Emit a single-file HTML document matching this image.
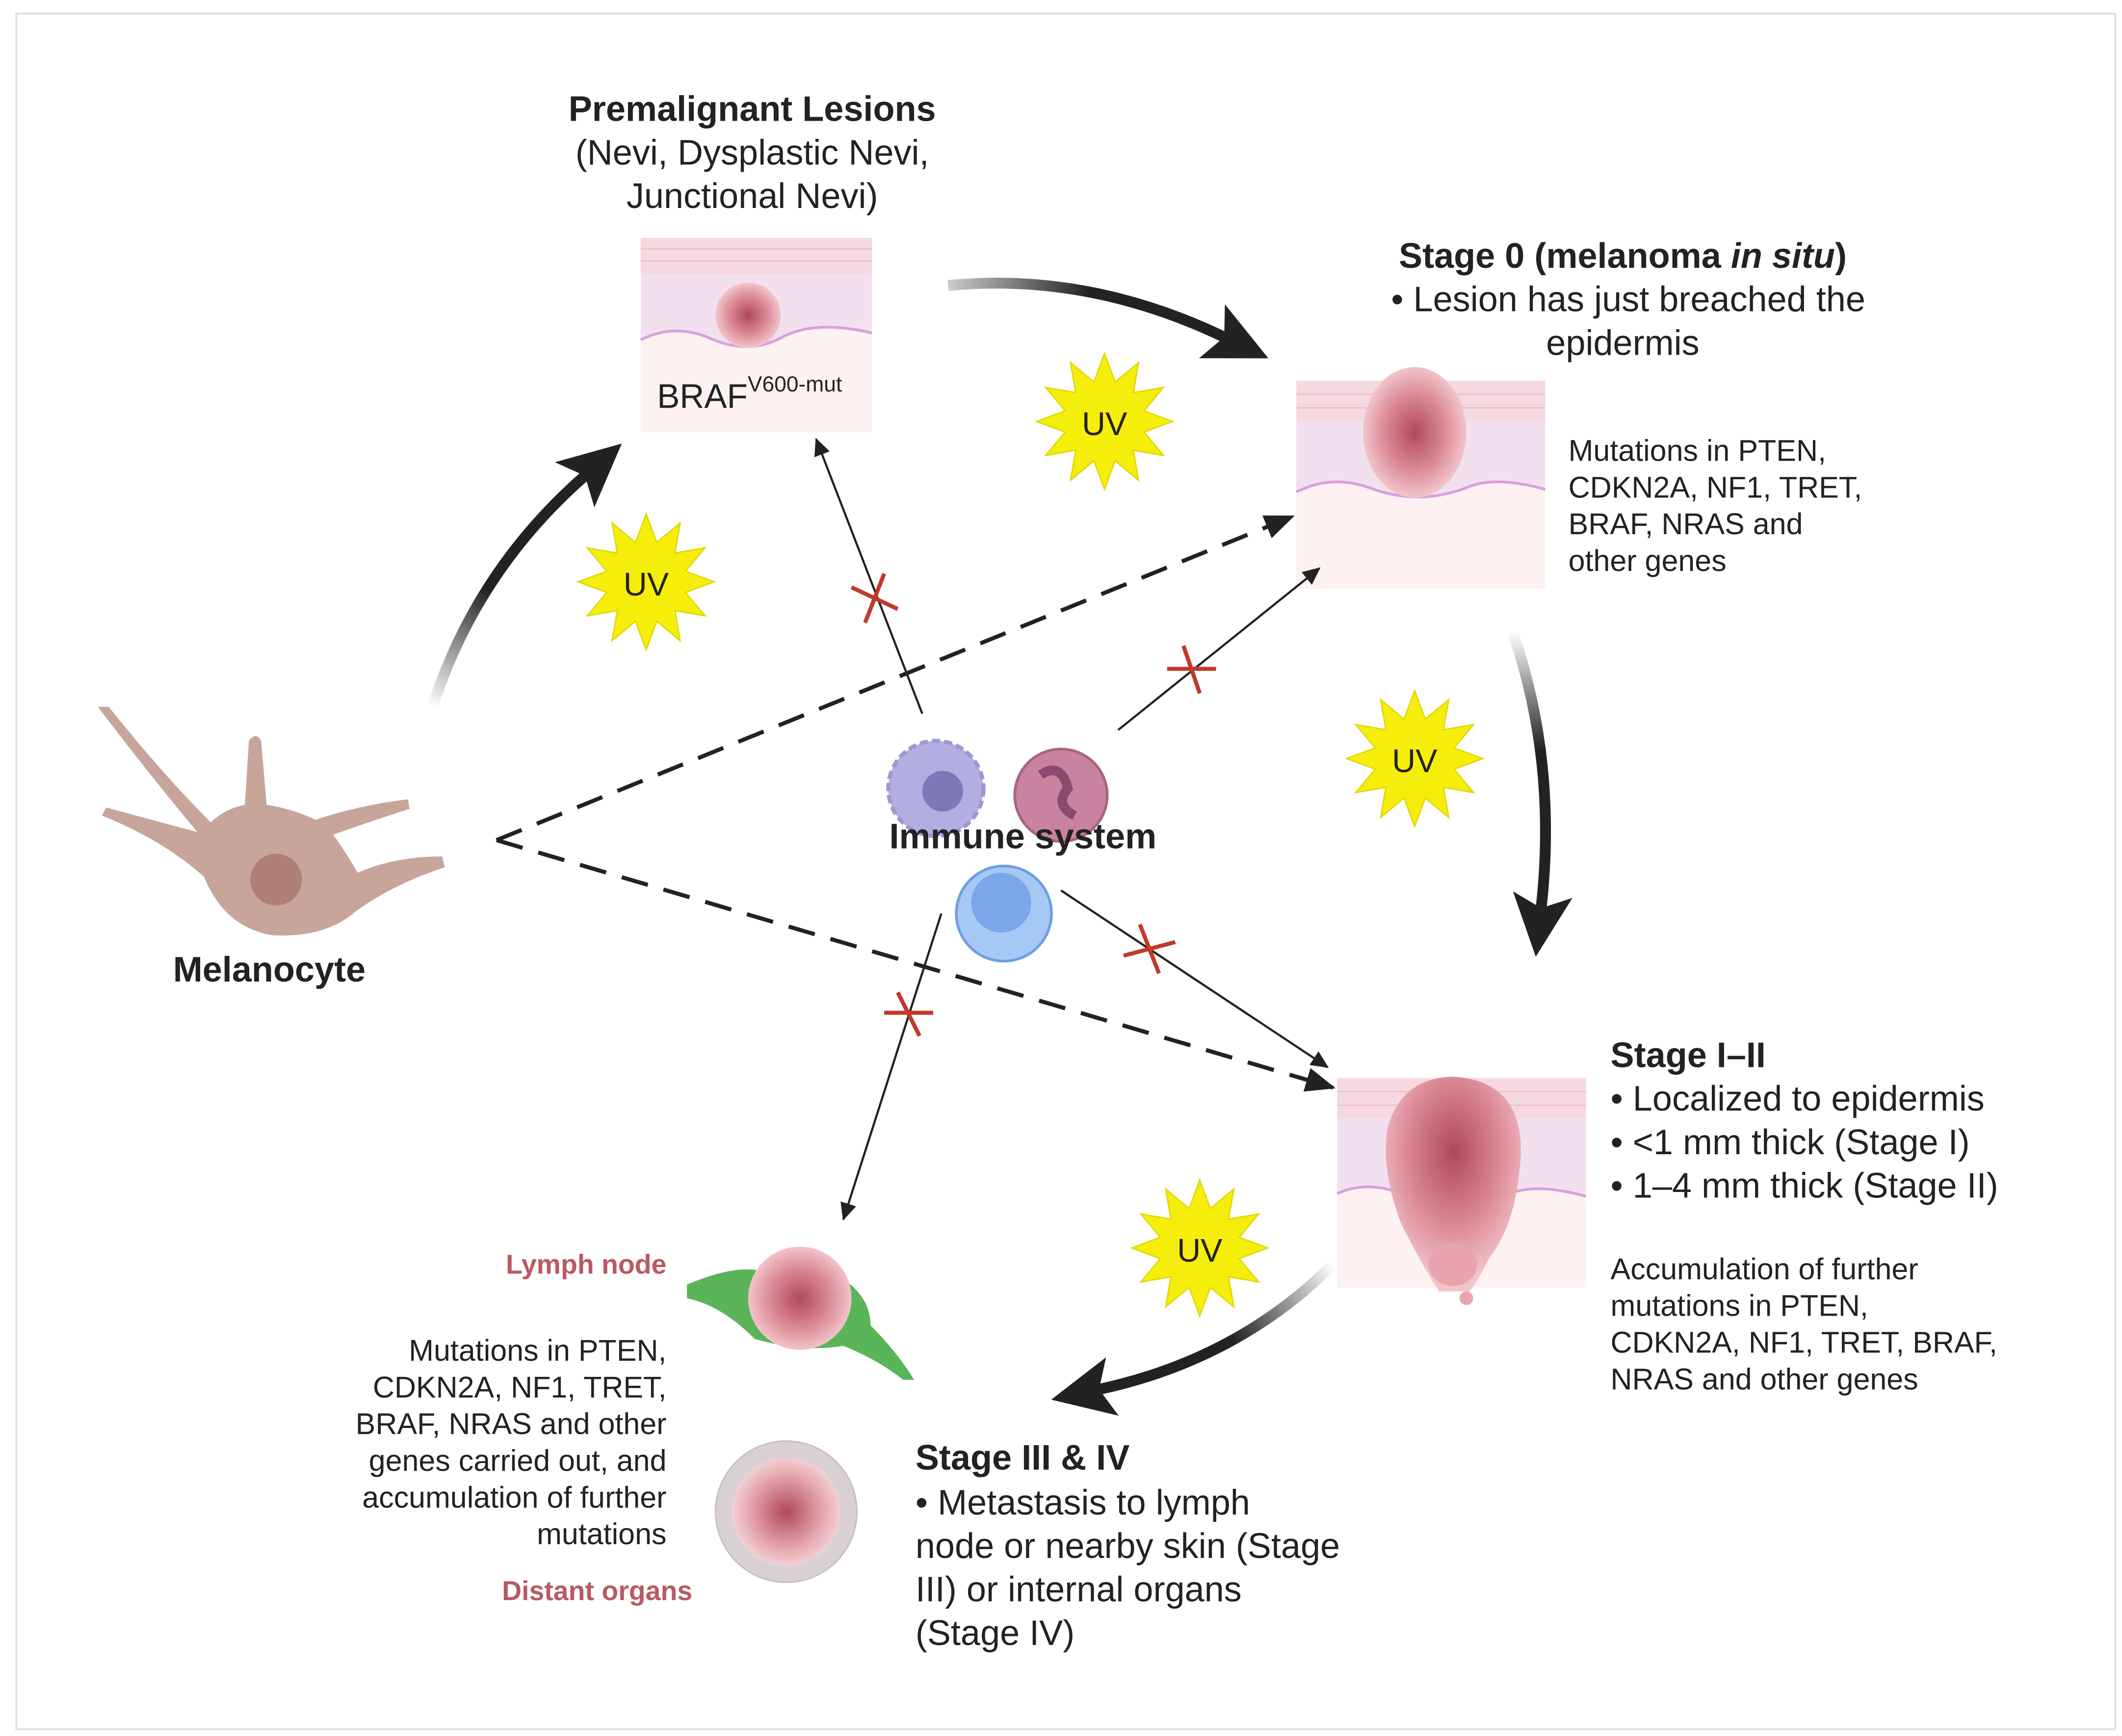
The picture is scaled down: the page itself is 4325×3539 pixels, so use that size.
<!DOCTYPE html>
<html><head><meta charset="utf-8">
<style>
html,body{margin:0;padding:0;background:#fff;}
svg{display:block;}
text{font-family:"Liberation Sans",sans-serif;fill:#222;}
.b{font-weight:bold;}
</style></head>
<body>
<svg width="4325" height="3539" viewBox="0 0 1560 1277" preserveAspectRatio="none" xmlns="http://www.w3.org/2000/svg">
<defs>
<marker id="big" markerUnits="userSpaceOnUse" markerWidth="50" markerHeight="50" refX="10" refY="25" orient="auto"><path d="M0,3 L46,25 L0,47 L10,25 Z" fill="#222"/></marker>
<marker id="sm" markerUnits="userSpaceOnUse" markerWidth="14" markerHeight="14" refX="12" refY="7" orient="auto"><path d="M0,1 L13,7 L0,13 Z" fill="#222"/></marker>
<marker id="dm" markerUnits="userSpaceOnUse" markerWidth="24" markerHeight="24" refX="20" refY="12" orient="auto"><path d="M0,3 L22,12 L0,21 Z" fill="#222"/></marker>
<linearGradient id="g1" gradientUnits="userSpaceOnUse" x1="318" y1="520" x2="420" y2="360"><stop offset="0" stop-color="#fff"/><stop offset="0.5" stop-color="#222"/></linearGradient>
<linearGradient id="g2" gradientUnits="userSpaceOnUse" x1="697" y1="210" x2="900" y2="240"><stop offset="0" stop-color="#ccc"/><stop offset="0.5" stop-color="#222"/></linearGradient>
<linearGradient id="g3" gradientUnits="userSpaceOnUse" x1="1112" y1="465" x2="1135" y2="640"><stop offset="0" stop-color="#fff"/><stop offset="0.5" stop-color="#222"/></linearGradient>
<linearGradient id="g4" gradientUnits="userSpaceOnUse" x1="980" y1="930" x2="820" y2="1020"><stop offset="0" stop-color="#fff"/><stop offset="0.5" stop-color="#222"/></linearGradient>
<radialGradient id="tum"><stop offset="0" stop-color="#b0485e"/><stop offset="0.6" stop-color="#dc8c98"/><stop offset="1" stop-color="#f2c4ca"/></radialGradient>
<radialGradient id="tum2" cx="0.5" cy="0.35" r="0.6"><stop offset="0" stop-color="#b0485e"/><stop offset="0.6" stop-color="#dc8c98"/><stop offset="1" stop-color="#f2c4ca"/></radialGradient>
<radialGradient id="org"><stop offset="0" stop-color="#b0485e"/><stop offset="0.7" stop-color="#e7a9b1"/><stop offset="1" stop-color="#f0d0d4"/></radialGradient>
<polygon id="star" points="50,0 29,7.8 43.3,25 21.2,21.2 25,43.3 7.8,29 0,50 -7.8,29 -25,43.3 -21.2,21.2 -43.3,25 -29,7.8 -50,0 -29,-7.8 -43.3,-25 -21.2,-21.2 -25,-43.3 -7.8,-29 0,-50 7.8,-29 25,-43.3 21.2,-21.2 43.3,-25 29,-7.8" fill="#f5ee0a" stroke="#e0d800" stroke-width="1"/>
</defs>
<rect x="12" y="10" width="1543" height="1262" fill="#fff" stroke="#e2e2e2" stroke-width="1.5"/>

<!-- Premalignant -->
<text x="553" y="89" text-anchor="middle" class="b" font-size="26">Premalignant Lesions</text>
<text x="553" y="121" text-anchor="middle" font-size="26">(Nevi, Dysplastic Nevi,</text>
<text x="553" y="153" text-anchor="middle" font-size="26">Junctional Nevi)</text>
<rect x="471" y="175" width="170" height="143" fill="#fdf1f1"/>
<rect x="471" y="175" width="170" height="27" fill="#f6d9e0"/>
<line x1="471" y1="183" x2="641" y2="183" stroke="#eac0c8"/><line x1="471" y1="192" x2="641" y2="192" stroke="#eac0c8"/>
<path d="M471,202 H641 V245 Q600,235 575,248 Q550,262 520,248 Q495,238 471,250 Z" fill="#f2e0ef"/>
<path d="M471,250 Q495,238 520,248 Q550,262 575,248 Q600,235 641,245" fill="none" stroke="#d9a0dc" stroke-width="2"/>
<circle cx="550" cy="232" r="24" fill="url(#tum)"/>
<text x="483" y="300" font-size="25">BRAF<tspan dy="-12" font-size="16">V600-mut</tspan></text>

<!-- Stage 0 -->
<text x="1193" y="197" text-anchor="middle" class="b" font-size="26">Stage 0 (melanoma <tspan font-style="italic">in situ</tspan>)</text>
<text x="1197" y="229" text-anchor="middle" font-size="26">• Lesion has just breached the</text>
<text x="1193" y="261" text-anchor="middle" font-size="26">epidermis</text>
<rect x="953" y="280" width="183" height="153" fill="#fdf1f1"/>
<rect x="953" y="280" width="183" height="30" fill="#f6d9e0"/>
<line x1="953" y1="290" x2="1136" y2="290" stroke="#eac0c8"/><line x1="953" y1="300" x2="1136" y2="300" stroke="#eac0c8"/>
<path d="M953,310 H1136 V360 Q1100,350 1080,358 Q1045,372 1010,360 Q980,348 953,362 Z" fill="#f2e0ef"/>
<path d="M953,362 Q980,348 1010,360 Q1045,372 1080,358 Q1100,350 1136,360" fill="none" stroke="#d9a0dc" stroke-width="2"/>
<ellipse cx="1040" cy="318" rx="38" ry="48" fill="url(#tum)"/>
<g font-size="22"><text x="1153" y="339">Mutations in PTEN,</text><text x="1153" y="366">CDKN2A, NF1, TRET,</text><text x="1153" y="393">BRAF, NRAS and</text><text x="1153" y="420">other genes</text></g>

<!-- Stage I-II -->
<rect x="983" y="793" width="183" height="154" fill="#fdf1f1"/>
<rect x="983" y="793" width="183" height="30" fill="#f6d9e0"/>
<line x1="983" y1="803" x2="1166" y2="803" stroke="#eac0c8"/><line x1="983" y1="813" x2="1166" y2="813" stroke="#eac0c8"/>
<path d="M983,823 H1166 V880 Q1130,870 1110,878 Q1070,892 1030,878 Q1005,868 983,878 Z" fill="#f2e0ef"/>
<path d="M983,878 Q1005,868 1030,878 Q1070,892 1110,878 Q1130,870 1166,880" fill="none" stroke="#d9a0dc" stroke-width="2"/>
<path d="M1068,792 Q1120,795 1118,850 Q1115,900 1095,925 Q1085,945 1080,950 L1058,950 Q1045,930 1030,900 Q1015,860 1020,830 Q1030,793 1068,792 Z" fill="url(#tum2)"/>
<ellipse cx="1068" cy="930" rx="18" ry="16" fill="#eaa4b0"/>
<circle cx="1078" cy="955" r="5" fill="#eaa4b0"/>
<g font-size="26"><text x="1184" y="785" class="b">Stage I–II</text><text x="1184" y="817">• Localized to epidermis</text><text x="1184" y="849">• &lt;1 mm thick (Stage I)</text><text x="1184" y="881">• 1–4 mm thick (Stage II)</text></g>
<g font-size="22"><text x="1184" y="941">Accumulation of further</text><text x="1184" y="968">mutations in PTEN,</text><text x="1184" y="995">CDKN2A, NF1, TRET, BRAF,</text><text x="1184" y="1022">NRAS and other genes</text></g>

<!-- Stage III & IV -->
<g font-size="26"><text x="673" y="1081" class="b">Stage III &amp; IV</text><text x="673" y="1114">• Metastasis to lymph</text><text x="673" y="1146">node or nearby skin (Stage</text><text x="673" y="1178">III) or internal organs</text><text x="673" y="1210">(Stage IV)</text></g>

<!-- Lymph node & organ -->
<path d="M505,945 Q540,930 560,935 Q580,925 610,935 Q640,950 640,975 Q660,995 672,1015 L664,1015 Q645,1000 620,990 Q590,995 555,985 Q530,960 505,955 Z" fill="#5ab45a"/>
<circle cx="588" cy="955" r="38" fill="url(#tum)"/>
<text x="490" y="937" text-anchor="end" class="b" font-size="20" style="fill:#b85a62">Lymph node</text>
<circle cx="578" cy="1112" r="52" fill="#d8d0d2" stroke="#c8bcc0"/>
<circle cx="578" cy="1112" r="40" fill="url(#org)"/>
<text x="509" y="1177" text-anchor="end" class="b" font-size="20" style="fill:#b85a62">Distant organs</text>
<g font-size="22" text-anchor="end"><text x="490" y="1001">Mutations in PTEN,</text><text x="490" y="1028">CDKN2A, NF1, TRET,</text><text x="490" y="1055">BRAF, NRAS and other</text><text x="490" y="1082">genes carried out, and</text><text x="490" y="1109">accumulation of further</text><text x="490" y="1136">mutations</text></g>

<!-- Melanocyte -->
<path d="M72,520 L80,520 Q120,570 155,605 Q165,595 180,592 L183,545 Q188,538 192,545 L196,592 Q215,595 232,603 Q265,592 300,588 L301,595 Q270,605 245,614 Q255,628 263,642 Q290,630 325,630 L327,638 Q290,650 262,670 Q240,690 200,688 Q165,682 150,645 Q120,618 75,600 L78,594 Q115,604 145,612 Q110,570 72,520 Z" fill="#c7a59b"/>
<circle cx="203" cy="647" r="19" fill="#b07f78"/>
<text x="198" y="722" text-anchor="middle" class="b" font-size="26">Melanocyte</text>

<!-- Big arrows -->
<path d="M318,520 Q350,420 430,350" fill="none" stroke="url(#g1)" stroke-width="8" marker-end="url(#big)"/>
<path d="M697,210 Q800,200 900,248" fill="none" stroke="url(#g2)" stroke-width="8" marker-end="url(#big)"/>
<path d="M1112,465 Q1145,560 1133,668" fill="none" stroke="url(#g3)" stroke-width="8" marker-end="url(#big)"/>
<path d="M980,930 Q910,1000 808,1022" fill="none" stroke="url(#g4)" stroke-width="8" marker-end="url(#big)"/>

<!-- Dashed -->
<line x1="365" y1="618" x2="950" y2="380" stroke="#222" stroke-width="3" stroke-dasharray="20,12" marker-end="url(#dm)"/>
<line x1="365" y1="618" x2="980" y2="800" stroke="#222" stroke-width="3" stroke-dasharray="20,12" marker-end="url(#dm)"/>

<!-- Thin arrows -->
<g stroke="#222" stroke-width="1.6"><line x1="678" y1="525" x2="600" y2="323" marker-end="url(#sm)"/><line x1="822" y1="537" x2="970" y2="418" marker-end="url(#sm)"/><line x1="780" y1="655" x2="976" y2="785" marker-end="url(#sm)"/><line x1="692" y1="672" x2="620" y2="897" marker-end="url(#sm)"/></g>
<g stroke="#c0392b" stroke-width="3">
<line x1="626" y1="432" x2="660" y2="448"/><line x1="636" y1="458" x2="650" y2="422"/>
<line x1="858" y1="492" x2="894" y2="492"/><line x1="870" y1="475" x2="882" y2="510"/>
<line x1="826" y1="703" x2="864" y2="693"/><line x1="838" y1="680" x2="852" y2="716"/>
<line x1="650" y1="745" x2="686" y2="745"/><line x1="660" y1="730" x2="676" y2="762"/>
</g>

<!-- Immune cells -->
<circle cx="688" cy="580" r="35" fill="#b3aee0" stroke="#9d97d6" stroke-width="3" stroke-dasharray="6,3"/>
<circle cx="693" cy="582" r="15" fill="#7f78b8"/>
<circle cx="780" cy="585" r="34" fill="#c9829f" stroke="#a86484" stroke-width="2"/>
<path d="M765,570 Q780,560 785,580 Q775,592 790,600" fill="none" stroke="#8c4a6e" stroke-width="7"/>
<circle cx="738" cy="672" r="35" fill="#a6c8f5" stroke="#6f9fe0" stroke-width="2"/>
<circle cx="736" cy="664" r="22" fill="#7aa7ea"/>
<text x="752" y="624" text-anchor="middle" class="b" font-size="26">Immune system</text>

<!-- UV stars -->
<g><use href="#star" x="812" y="310"/><text x="812" y="320" text-anchor="middle" font-size="24">UV</text></g>
<g><use href="#star" x="475" y="428"/><text x="475" y="438" text-anchor="middle" font-size="24">UV</text></g>
<g><use href="#star" x="1040" y="558"/><text x="1040" y="568" text-anchor="middle" font-size="24">UV</text></g>
<g><use href="#star" x="882" y="918"/><text x="882" y="928" text-anchor="middle" font-size="24">UV</text></g>
</svg>
</body></html>
